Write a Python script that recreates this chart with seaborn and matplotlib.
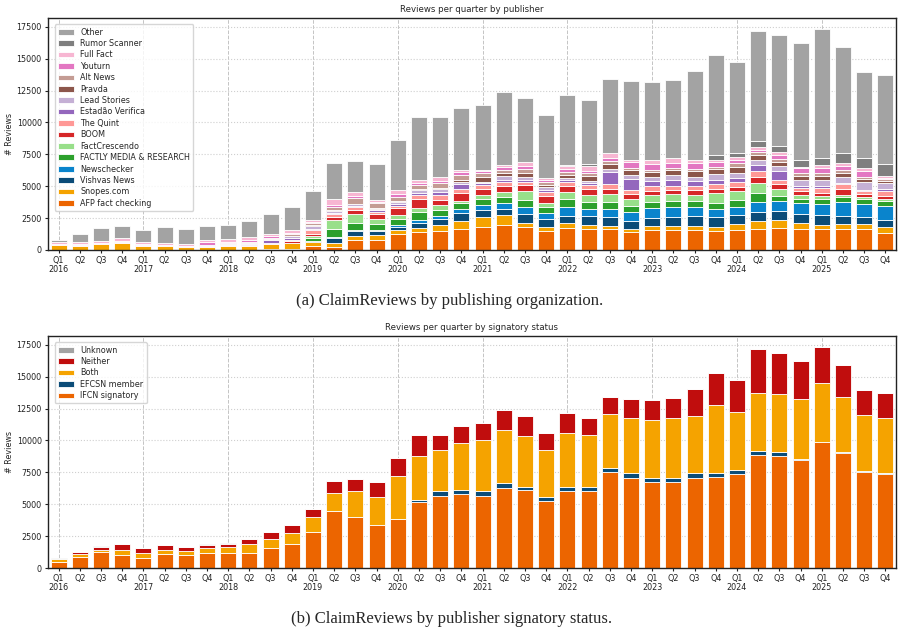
import numpy as np
import pandas as pd
import matplotlib
matplotlib.use("Agg")
import matplotlib.pyplot as plt
import seaborn as sns

# quarters 2016 Q1 .. 2025 Q4
years = [y for y in range(2016, 2026) for q in range(4)]
qnums = [q for y in range(2016, 2026) for q in range(1, 5)]
tick_labels = [f"Q{q}\n{y}" if q == 1 else f"Q{q}" for y, q in zip(years, qnums)]

# ---- publishers (values per quarter) ----
afp = [0, 0, 0, 0, 0, 0, 0, 0, 0, 0, 50, 80, 340, 260, 790, 790, 1230, 1390, 1520, 1620,
       1780, 1970, 1780, 1520, 1760, 1680, 1620, 1440, 1570, 1570, 1570, 1520, 1600, 1650, 1750, 1670,
       1620, 1620, 1620, 1360]
snopes = [400, 350, 500, 580, 340, 340, 260, 240, 340, 340, 400, 440, 260, 260, 340, 360, 340, 370, 420, 680,
          840, 780, 370, 310, 340, 310, 270, 240, 290, 320, 340, 310, 410, 600, 600, 420, 340, 390, 420, 420]
vishvas = [0] * 12 + [80, 450, 370, 350, 260, 390, 470, 630, 520, 500, 680, 580, 600, 680, 680, 620,
                      660, 680, 780, 730, 740, 730, 710, 740, 790, 690, 580, 570]
newschecker = [0] * 12 + [50, 30, 30, 30, 150, 200, 290, 270, 400, 420, 520, 520, 700, 550, 630, 710,
                          780, 780, 660, 630, 650, 810, 790, 830, 830, 1070, 960, 1100]
factly = [0] * 11 + [50, 200, 650, 620, 540, 430, 610, 420, 450, 490, 520, 580, 480, 580, 550, 600, 470,
                     500, 500, 520, 520, 520, 660, 390, 340, 420, 420, 420, 400]
factcrescendo = [0] * 12 + [150, 710, 650, 390, 340, 370, 420, 200, 290, 370, 730, 310, 530, 580, 600, 550,
                            550, 550, 470, 790, 710, 810, 570, 280, 250, 150, 150, 130]
boom = [0] * 10 + [50, 100, 200, 260, 340, 340, 520, 650, 390, 650, 450, 470, 450, 550, 470, 420, 390, 370,
                   310, 320, 370, 290, 340, 500, 400, 350, 250, 420, 220, 290]
quint = [40, 50, 40, 50, 50, 40, 40, 50, 60, 80, 80, 120, 250, 180, 200, 200, 200, 340, 390, 250,
         340, 340, 250, 250, 330, 300, 350, 320, 370, 310, 310, 390, 390, 440, 290, 260, 390, 390, 260, 330]
estadao = [0, 0, 0, 0, 0, 0, 0, 50, 0, 50, 200, 150, 150, 100, 100, 100, 120, 150, 240, 390,
           130, 150, 150, 150, 150, 180, 990, 860, 420, 470, 400, 310, 290, 500, 730, 100, 100, 80, 100, 150]
lead = [40, 50, 40, 50, 50, 40, 40, 50, 60, 90, 100, 150, 200, 150, 150, 150, 150, 200, 240, 210,
        130, 250, 250, 250, 200, 200, 250, 300, 310, 370, 340, 450, 420, 360, 390, 500, 510, 530, 630, 540]
pravda = [0] * 12 + [50, 50, 50, 50, 80, 100, 100, 150, 340, 250, 250, 150, 230, 350, 400, 410,
                     370, 420, 410, 390, 470, 400, 310, 350, 310, 310, 200, 120]
altnews = [0, 0, 0, 0, 0, 0, 0, 0, 50, 70, 60, 130, 150, 300, 400, 400, 370, 340, 340, 400,
           320, 270, 310, 300, 260, 250, 180, 150, 150, 150, 180, 200, 250, 200, 170, 200, 200, 200, 150, 150]
youturn = [0, 0, 0, 40, 30, 0, 0, 200, 80, 120, 120, 100, 100, 150, 180, 100, 200, 150, 200, 200,
           130, 200, 250, 150, 230, 150, 220, 480, 430, 350, 450, 400, 270, 200, 360, 370, 400, 300, 490, 120]
fullfact = [120, 150, 100, 200, 180, 100, 110, 200, 250, 300, 200, 250, 180, 450, 310, 130, 330, 240, 320, 190,
            130, 190, 370, 110, 170, 350, 420, 150, 360, 420, 260, 150, 200, 200, 230, 130, 260, 250, 240, 130]
rumor = [0] * 24 + [150, 160, 0, 0, 0, 0, 0, 380, 380, 490, 500, 520, 530, 770, 780, 900]
other = [200, 650, 1020, 960, 930, 1280, 1190, 1060, 1090, 1230, 1590, 1810, 2290, 2850, 2470, 2850,
         3930, 4950, 4690, 4860, 5070, 5680, 4970, 4990, 5420, 5070, 5790, 6210, 6130, 6100,
         7010, 7870, 7110, 8600, 8670, 9170, 10130, 8300, 6770, 6990]

publishers = {
    "Other": (other, "#a3a3a3"),
    "Rumor Scanner": (rumor, "#7f7f7f"),
    "Full Fact": (fullfact, "#f7b6d2"),
    "Youturn": (youturn, "#e377c2"),
    "Alt News": (altnews, "#c49c94"),
    "Pravda": (pravda, "#8c564b"),
    "Lead Stories": (lead, "#c5b0d5"),
    "Estadão Verifica": (estadao, "#9467bd"),
    "The Quint": (quint, "#ff9896"),
    "BOOM": (boom, "#d62728"),
    "FactCrescendo": (factcrescendo, "#98df8a"),
    "FACTLY MEDIA & RESEARCH": (factly, "#2ca02c"),
    "Newschecker": (newschecker, "#0a84cc"),
    "Vishvas News": (vishvas, "#0b4c78"),
    "Snopes.com": (snopes, "#f5a300"),
    "AFP fact checking": (afp, "#ec6500"),
}

# ---- signatory status ----
ifcn = [470, 870, 1260, 1030, 790, 1100, 1030, 1180, 1180, 1180, 1600, 1920, 2790, 4470, 3970, 3370,
        3870, 5150, 5650, 5790, 5630, 6260, 6130, 5230, 6050, 6020, 7520, 7050, 6730, 6760, 7020, 7100,
        7360, 8840, 8780, 8470, 9860, 9020, 7520, 7390]
efcsn = [0] * 17 + [190, 350, 310, 370, 370, 260, 370, 340, 320, 290, 370, 320, 310, 400, 370, 320,
                    340, 320, 50, 60, 50, 50, 50]
both = [240, 260, 190, 420, 420, 350, 290, 350, 450, 710, 640, 840, 1210, 1420, 2080, 2180, 3360, 3470,
        3260, 3680, 4020, 4230, 3970, 3660, 4180, 4130, 4290, 4310, 4570, 4660, 4490, 5340, 4550, 4570,
        4550, 4710, 4550, 4370, 4450, 4290]
neither = [30, 100, 230, 420, 360, 340, 310, 310, 290, 380, 600, 610, 650, 960, 950, 1230, 1420, 1640,
           1190, 1370, 1340, 1500, 1550, 1360, 1550, 1310, 1290, 1550, 1580, 1580, 2160, 2520, 2520, 3400,
           3210, 3000, 2860, 2450, 1970, 1970]
unknown = [60, 20, 20, 10, 10, 10, 10, 10, 10, 10, 10, 10] + [0] * 28

statuses = {
    "Unknown": (unknown, "#a3a3a3"),
    "Neither": (neither, "#c00d0d"),
    "Both": (both, "#f5a300"),
    "EFCSN member": (efcsn, "#0b4c78"),
    "IFCN signatory": (ifcn, "#ec6500"),
}


def long_form(series, key):
    rows = []
    for name, (vals, _) in series.items():
        for i, v in enumerate(vals):
            rows.append({"idx": i, key: name, "n": v})
    return pd.DataFrame(rows)


sns.set_theme(style="whitegrid", rc={
    "axes.edgecolor": "#222222", "axes.linewidth": 1.0,
    "xtick.major.size": 2.5, "ytick.major.size": 2.5,
    "xtick.major.width": 0.8, "ytick.major.width": 0.8,
    "xtick.color": "#222222", "ytick.color": "#222222",
    "xtick.bottom": True, "ytick.left": True,
})
plt.rcParams["font.family"] = ["DejaVu Sans"]

fig = plt.figure(figsize=(9.04, 6.35), dpi=100)
ax1 = fig.add_axes([0.0531, 0.6063, 0.938, 0.3654])
ax2 = fig.add_axes([0.0531, 0.1055, 0.938, 0.3654])

panels = [
    (ax1, publishers, "publisher", "Reviews per quarter by publisher"),
    (ax2, statuses, "status", "Reviews per quarter by signatory status"),
]

for ax, series, key, title in panels:
    df = long_form(series, key)
    sns.histplot(data=df, x="idx", weights="n", hue=key, hue_order=list(series.keys()),
                 multiple="stack", discrete=True, shrink=0.75,
                 palette={k: c for k, (_, c) in series.items()},
                 edgecolor="white", linewidth=0.6, alpha=1, ax=ax)
    ax.set_axisbelow(True)
    ax.grid(axis="x", visible=False)
    ax.grid(axis="y", ls=":", color="#cfcfcf", lw=0.8)
    for i, q in enumerate(qnums):
        if q == 1:
            ax.axvline(i, ls="--", color="#c4c4c4", lw=0.7, zorder=0)
    ax.set_xlim(-0.5, len(qnums) - 0.5)
    ax.set_xticks(range(len(qnums)))
    ax.set_xticklabels(tick_labels, fontsize=5.8, linespacing=1.0)
    ax.set_yticks(np.arange(0, 17501, 2500))
    ax.tick_params(axis="y", labelsize=5.8, pad=2)
    ax.tick_params(axis="x", pad=2)
    ax.set_xlabel("")
    ax.set_ylabel("# Reviews", fontsize=5.8, labelpad=1.5)
    ax.set_title(title, fontsize=6.2, pad=4)
    for sp in ax.spines.values():
        sp.set_color("#222222")
    sns.move_legend(ax, "upper left", title=None, fontsize=5.8, frameon=True,
                    labelspacing=0.3, handlelength=2.0, handleheight=0.7,
                    borderpad=0.4, bbox_to_anchor=(0.003, 0.99))

fig.text(0.497, 1 - 301 / 635, "(a) ClaimReviews by publishing organization.",
         ha="center", va="center", fontsize=12, family="Liberation Serif")
fig.text(0.499, 1 - 619 / 635, "(b) ClaimReviews by publisher signatory status.",
         ha="center", va="center", fontsize=12, family="Liberation Serif")

fig.savefig("out.png", dpi=100)
